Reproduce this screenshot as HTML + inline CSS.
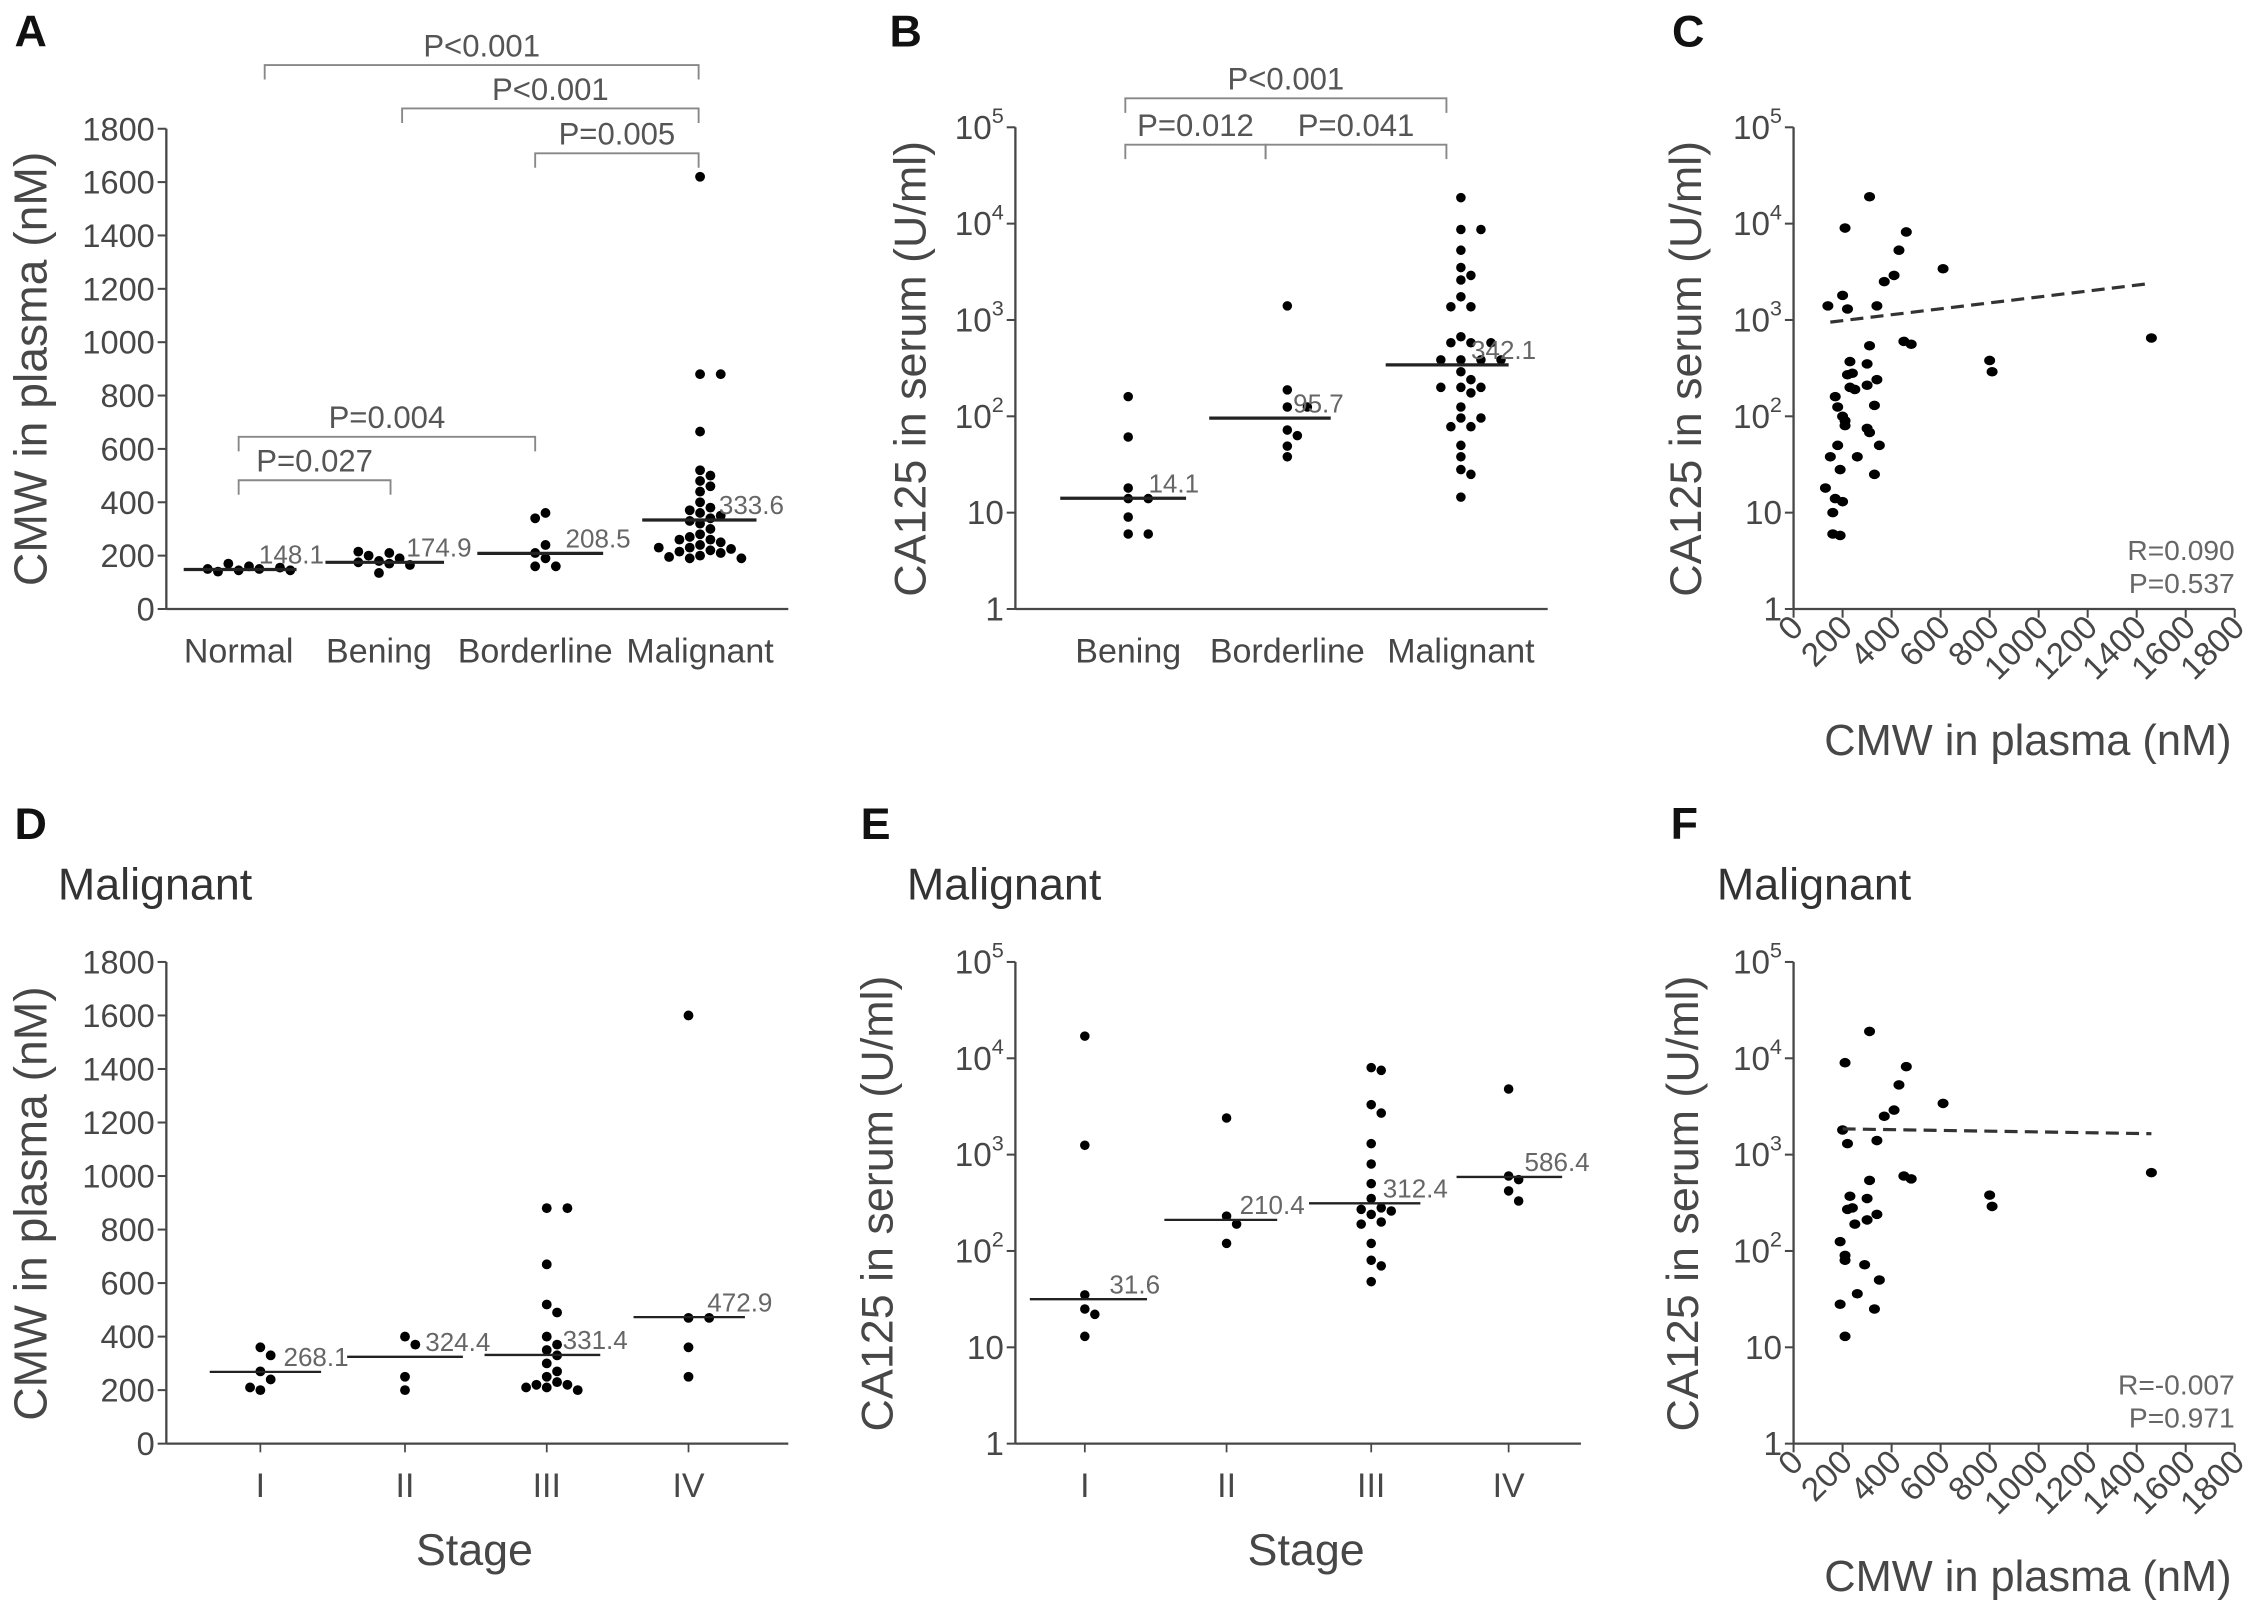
<!DOCTYPE html>
<html><head><meta charset="utf-8"><style>
html,body{margin:0;padding:0;background:#fff;}
svg{display:block;font-family:"Liberation Sans",sans-serif;}
</style></head><body>
<svg id="fig" width="2268" height="1610" viewBox="0 0 1568 1113" preserveAspectRatio="none" xmlns="http://www.w3.org/2000/svg"></svg>
<script>
// ---- Panel A data ----
const aCats = ["Normal","Bening","Borderline","Malignant"];
const aNormal = [145,150,140,160,170,150,155,145];
const aBening = [135,170,180,200,210,215,175,190,165];
const aBorder = [160,160,190,210,240,340,360];
const aMalig = [1620,880,880,665,520,500,480,460,440,400,380,370,360,350,340,330,320,300,280,270,260,250,240,230,225,220,215,210,200,195,190,190,230,260];
const aMedians = [148.1,174.9,208.5,333.6];
const aTicks = [0,200,400,600,800,1000,1200,1400,1600,1800];
// ---- Panel B data ----
const bCats = ["Bening","Borderline","Malignant"];
const bBening = [160,61,18,14,14,9,6,6];
const bBorder = [1400,188,125,125,72,63,49,38];
const bMalig = [18600,8700,8700,5300,3500,2900,2600,1740,1370,1370,670,580,580,580,385,385,385,385,290,240,200,200,200,175,125,96,96,78,78,50,38,28,25,14.5];
const bMedians = [14.1,95.7,342.1];
const logTicks = [1,10,100,1000,10000,100000];
// ---- Panel C data ----
const cX = [140,200,210,220,310,340,370,410,430,460,450,480,610,800,810,1460,130,160,160,190,150,180,170,180,190,170,200,200,210,220,230,230,250,240,260,300,300,310,300,310,330,340,330,350,210];
const cY = [1400,1800,9000,1300,19000,1400,2500,2900,5300,8200,600,560,3400,380,290,650,18,10,6,5.8,38,50,160,125,28,14,13,100,80,270,370,200,190,280,38,350,210,540,75,68,130,240,25,50,90];
const cFit = [[150,950],[1460,2400]];
const xTicks = [0,200,400,600,800,1000,1200,1400,1600,1800];
// ---- Panel D data ----
const dCats = ["I","II","III","IV"];
const dI = [360,330,270,240,200,210];
const dII = [400,370,250,200];
const dIII = [880,880,670,520,490,400,370,350,330,300,270,250,230,220,220,210,210,200];
const dIV = [1600,470,470,360,250];
const dMedians = [268.1,324.4,331.4,472.9];
// ---- Panel E data ----
const eI = [17000,1250,35,25,22,13];
const eII = [2400,230,190,120];
const eIII = [8000,7500,3300,2700,1300,800,500,350,280,270,260,240,200,190,120,80,70,48];
const eIV = [4800,600,550,420,330];
const eMedians = [31.6,210.4,312.4,586.4];
// ---- Panel F data ----
const fX = [210,310,200,220,340,370,410,430,460,450,480,610,800,810,1460,310,230,300,220,240,250,300,340,190,210,210,290,350,260,190,330,210];
const fY = [9000,19000,1800,1300,1400,2500,2900,5300,8200,600,560,3400,380,290,650,540,370,350,270,280,190,210,240,125,90,80,72,50,36,28,25,13];
const fFit = [[200,1850],[1460,1650]];

const NS="http://www.w3.org/2000/svg";
const svg=document.getElementById('fig');
function mk(tag,attrs,parent){const e=document.createElementNS(NS,tag);for(const k in attrs)e.setAttribute(k,attrs[k]);(parent||svg).appendChild(e);return e;}
function txt(x,y,s,size,fill,anchor,parent){const t=mk('text',{x:x,y:y,'font-size':size,fill:fill,'text-anchor':anchor||'middle'},parent);t.textContent=s;return t;}
const AX='#474747', GR='#666';
const SUP={"1":"","10":"","100":"2","1000":"3","10000":"4","100000":"5"};

function linY(y0,y1){return v=>y0+(y1-y0)*v/1800;}
function logY(y0,y1){return v=>y0+(y1-y0)*Math.log10(v)/5;}

function yAxisLin(x,y0,y1,g){const ys=linY(y0,y1);
 mk('line',{x1:x,y1:y0,x2:x,y2:y1,stroke:AX,'stroke-width':1.6},g);
 aTicks.forEach(v=>{const y=ys(v);mk('line',{x1:x-6,y1:y,x2:x,y2:y,stroke:AX,'stroke-width':1.4},g);
  const t=txt(x-8,y+8,String(v),22.5,AX,'end',g);
  
  });
 return ys;}
function yAxisLog(x,y0,y1,g){const ys=logY(y0,y1);
 mk('line',{x1:x,y1:y0,x2:x,y2:y1,stroke:AX,'stroke-width':1.6},g);
 logTicks.forEach(v=>{const y=ys(v);mk('line',{x1:x-6,y1:y,x2:x,y2:y,stroke:AX,'stroke-width':1.4},g);
  let t;
  if(v<=10){t=txt(x-8,y+8,String(v),23,AX,'end',g);}
  else{t=mk('text',{x:x-8,y:y+8,'font-size':23,fill:AX,'text-anchor':'end'},g);
   const a=document.createElementNS(NS,'tspan');a.textContent='10';t.appendChild(a);
   const b=document.createElementNS(NS,'tspan');b.setAttribute('font-size','15');b.setAttribute('dy','-11');b.textContent=SUP[String(v)];t.appendChild(b);
   const c=document.createElementNS(NS,'tspan');c.setAttribute('font-size','15');c.setAttribute('dy','11');c.textContent='\u200b';t.appendChild(c);}
  
  });
 return ys;}
function yTitle(x,y,s,g,size){const t=mk('text',{x:0,y:0,'font-size':size||31,fill:AX,'text-anchor':'middle',transform:`translate(${x},${y}) rotate(-90)`},g);t.textContent=s;
 
 }
function panelLabel(x,y,s){const t=txt(x,y,s,31,'#111','start');t.setAttribute('font-weight','bold');
 
 }
function swarm(g,cx,vals,ys,r){const placed=[];const step=2*r*1.05;
 vals.forEach(v=>{const y=ys(v);let k=0,x=cx;
  for(let i=0;i<40;i++){k=i===0?0:(i%2?Math.ceil(i/2):-Math.ceil(i/2));x=cx+k*step;
   if(placed.every(p=>Math.hypot(p[0]-x,p[1]-y)>=2*r*1.08))break;}
  placed.push([x,y]);
  const c=mk('circle',{cx:x,cy:y,r:r,fill:'#000'},g);
  
  });}
function median(g,x1,x2,v,ys,label,w){const y=ys(v);
 const l=mk('line',{x1:x1,y1:y,x2:x2,y2:y,stroke:'#222','stroke-width':w||2.2},g);
 
 
 const t=txt(x2-26,y-4,label,18,GR,'start',g);
 
 }
function bracket(g,x1,x2,y,s){const p=mk('path',{d:`M${x1},${y+10}V${y}H${x2}V${y+10}`,fill:'none',stroke:'#888','stroke-width':1.3},g);
 
 
 const t=txt((x1+x2)/2,y-6,s,21.5,'#555','middle',g);
 
 }
function catLabels(g,xs,cats,y,size){cats.forEach((c,i)=>{const t=txt(xs[i],y,c,size||23.5,AX,'middle',g);
 
 });}
function scatter(g,x0,yb,y0,y1,xs,yv,fit,rtext,ptext){
 const sx=v=>x0+v*(305/1800);const ys=yAxisLog(x0,yb,y0,g);
 mk('line',{x1:x0,y1:yb,x2:x0+305,y2:yb,stroke:AX,'stroke-width':1.6},g);
 xTicks.forEach(v=>{const x=sx(v);mk('line',{x1:x,y1:yb,x2:x,y2:yb+6,stroke:AX,'stroke-width':1.4},g);
  const t=mk('text',{x:0,y:0,'font-size':23,fill:AX,'text-anchor':'end',transform:`translate(${x+8},${yb+14}) rotate(-45)`},g);t.textContent=String(v);
  
  });
 xs.forEach((v,i)=>{const c=mk('ellipse',{cx:sx(v),cy:ys(yv[i]),rx:3.8,ry:3.3,fill:'#000'},g);
  
  });
 const f=mk('line',{x1:sx(fit[0][0]),y1:ys(fit[0][1]),x2:sx(fit[1][0]),y2:ys(fit[1][1]),stroke:'#333','stroke-width':2.2,'stroke-dasharray':'9,5'},g);
 
 
 const r=txt(x0+305,yb-34,rtext,19.5,GR,'end',g);
 
 
 const p=txt(x0+305,yb-11,ptext,19.5,GR,'end',g);
 
 
 return sx;}
function grp(name){const g=mk('g',{});return g;}

// Panel A
panelLabel(10,32,'A');
{const g=grp('panel-a-chart');const ys=yAxisLin(115,421,89,g);
 mk('line',{x1:115,y1:421,x2:545,y2:421,stroke:AX,'stroke-width':1.6},g);
 const xs=[165,262,370,484];
 catLabels(g,xs,aCats,458);
 yTitle(32,255,'CMW in plasma (nM)',g,32);
 [aNormal,aBening,aBorder,aMalig].forEach((d,i)=>swarm(g,xs[i],d,ys,3.4));
 const ml=[[127,205],[225,307],[330,417],[444,523]];
 aMedians.forEach((m,i)=>median(g,ml[i][0],ml[i][1],m,ys,String(m)));
 bracket(g,183,483,45,'P<0.001');bracket(g,278,483,75,'P<0.001');bracket(g,370,483,106,'P=0.005');
 bracket(g,165,370,302,'P=0.004');bracket(g,165,270,332,'P=0.027');}
// Panel B
panelLabel(615,32,'B');
{const g=grp('panel-b-chart');const ys=yAxisLog(702,421,88,g);
 mk('line',{x1:702,y1:421,x2:1070,y2:421,stroke:AX,'stroke-width':1.6},g);
 const xs=[780,890,1010];catLabels(g,xs,bCats,458);
 yTitle(640,255,'CA125 in serum (U/ml)',g);
 [bBening,bBorder,bMalig].forEach((d,i)=>swarm(g,xs[i],d,ys,3.3));
 const ml=[[733,820],[836,920],[958,1043]];
 bMedians.forEach((m,i)=>median(g,ml[i][0],ml[i][1],m,ys,String(m)));
 bracket(g,778,1000,68,'P<0.001');bracket(g,778,875,100,'P=0.012');bracket(g,875,1000,100,'P=0.041');}
// Panel C
panelLabel(1156,32,'C');
{const g=grp('panel-c-chart');scatter(g,1240,421,88,0,cX,cY,cFit,'R=0.090','P=0.537');
 yTitle(1176,255,'CA125 in serum (U/ml)',g);
 const t=txt(1402,522,'CMW in plasma (nM)',30,AX,'middle',g);}
// Panel D
panelLabel(10,580,'D');
{const g=grp('panel-d-chart');
 const h=txt(40,622,'Malignant',31,'#333','start',g);
 const ys=yAxisLin(115,998,665,g);
 mk('line',{x1:115,y1:998,x2:545,y2:998,stroke:AX,'stroke-width':1.6},g);
 const xs=[180,280,378,476];catLabels(g,xs,dCats,1035);
 xs.forEach(x=>mk('line',{x1:x,y1:998,x2:x,y2:1004,stroke:AX,'stroke-width':1.2},g));
 yTitle(32,832,'CMW in plasma (nM)',g,32);
 [dI,dII,dIII,dIV].forEach((d,i)=>swarm(g,xs[i],d,ys,3.4));
 const ml=[[145,222],[240,320],[335,415],[438,515]];
 dMedians.forEach((m,i)=>median(g,ml[i][0],ml[i][1],m,ys,String(m),1.6));
 const s=txt(328,1082,'Stage',31,AX,'middle',g);}
// Panel E
panelLabel(595,580,'E');
{const g=grp('panel-e-chart');
 const h=txt(627,622,'Malignant',31,'#333','start',g);
 const ys=yAxisLog(702,998,665,g);
 mk('line',{x1:702,y1:998,x2:1093,y2:998,stroke:AX,'stroke-width':1.6},g);
 const xs=[750,848,948,1043];catLabels(g,xs,dCats,1035);
 xs.forEach(x=>mk('line',{x1:x,y1:998,x2:x,y2:1004,stroke:AX,'stroke-width':1.2},g));
 yTitle(617,832,'CA125 in serum (U/ml)',g);
 [eI,eII,eIII,eIV].forEach((d,i)=>swarm(g,xs[i],d,ys,3.3));
 const ml=[[712,793],[805,883],[905,982],[1007,1080]];
 eMedians.forEach((m,i)=>median(g,ml[i][0],ml[i][1],m,ys,String(m),1.6));
 const s=txt(903,1082,'Stage',31,AX,'middle',g);}
// Panel F
panelLabel(1155,580,'F');
{const g=grp('panel-f-chart');
 const h=txt(1187,622,'Malignant',31,'#333','start',g);
 scatter(g,1240,998,665,0,fX,fY,fFit,'R=-0.007','P=0.971');
 yTitle(1174,832,'CA125 in serum (U/ml)',g);
 const t=txt(1402,1100,'CMW in plasma (nM)',30,AX,'middle',g);}
</script>
</body></html>
